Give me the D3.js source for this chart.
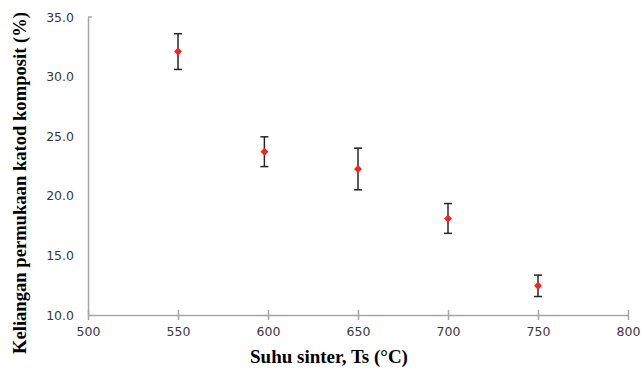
<!DOCTYPE html>
<html>
<head>
<meta charset="utf-8">
<script src="https://cdn.jsdelivr.net/npm/d3@7"></script>
<style>
  body { margin: 0; background: #fff; }
  svg { display: block; }
</style>
</head>
<body>
<svg id="chart" width="641" height="371"></svg>
<script>
// sintering temperature (°C) and surface loss (%) with error
const suhu = [550, 598, 650, 700, 750];
const kehilangan = [32.1, 23.7, 22.25, 18.1, 12.45];
const ralat = [1.5, 1.25, 1.75, 1.25, 0.9];

const xTicks = [500, 550, 600, 650, 700, 750, 800];
const yTicks = [10, 15, 20, 25, 30, 35];

const svg = d3.select("#chart");
const margin = { left: 88, right: 13, top: 17, bottom: 56 };
const width = 641, height = 371;

const x = d3.scaleLinear().domain([500, 800]).range([margin.left, width - margin.right]);
const y = d3.scaleLinear().domain([10, 35]).range([height - margin.bottom, margin.top]);

const axisColor = "#a6a6a6";
const labelColor = "#3a3a3a";
const tickFont = "12.5px 'DejaVu Sans', Verdana, sans-serif";

// x axis - ticks cross the line
const xAxis = svg.append("g")
  .attr("transform", `translate(0,${y(10)})`)
  .call(d3.axisBottom(x).tickValues(xTicks).tickFormat(d3.format("d")).tickSize(0).tickPadding(12));
xAxis.select(".domain").attr("stroke", axisColor).attr("stroke-width", 1.5);
xAxis.selectAll(".tick").append("line")
  .attr("y1", -5).attr("y2", 5)
  .attr("stroke", axisColor).attr("stroke-width", 1.5);
xAxis.selectAll("text")
  .attr("fill", labelColor)
  .style("font", tickFont);

// y axis - labels only, no ticks
const yAxis = svg.append("g")
  .attr("transform", `translate(${x(500)},0)`)
  .call(d3.axisLeft(y).tickValues(yTicks).tickFormat(d3.format(".1f")).tickSize(0).tickPadding(14));
yAxis.select(".domain").attr("stroke", axisColor).attr("stroke-width", 1.5);
yAxis.selectAll("text")
  .attr("fill", labelColor)
  .style("font", tickFont);
// small stub at top of y axis
svg.append("line")
  .attr("x1", x(500)).attr("x2", x(500) + 4)
  .attr("y1", y(35)).attr("y2", y(35))
  .attr("stroke", axisColor).attr("stroke-width", 1.5);

// error bars
const data = suhu.map((s, i) => ({ s, v: kehilangan[i], e: ralat[i] }));
const err = svg.append("g").attr("stroke", "#262626").attr("stroke-width", 1.5);
data.forEach(d => {
  err.append("line")
    .attr("x1", x(d.s)).attr("x2", x(d.s))
    .attr("y1", y(d.v + d.e)).attr("y2", y(d.v - d.e));
  [d.v + d.e, d.v - d.e].forEach(v => {
    err.append("line")
      .attr("x1", x(d.s) - 4).attr("x2", x(d.s) + 4)
      .attr("y1", y(v)).attr("y2", y(v));
  });
});

// diamond markers
svg.append("g").selectAll("path")
  .data(data)
  .join("path")
  .attr("d", d3.symbol(d3.symbolDiamond2, 40))
  .attr("transform", d => `translate(${x(d.s)},${y(d.v)})`)
  .attr("fill", "#ff1f1f");

// axis titles
svg.append("text")
  .attr("x", 329).attr("y", 363)
  .attr("text-anchor", "middle")
  .style("font", "bold 19px 'Liberation Serif', 'Times New Roman', serif")
  .text("Suhu sinter, Ts (°C)");

svg.append("text")
  .attr("transform", "translate(26,183) rotate(-90)")
  .attr("text-anchor", "middle")
  .style("font", "bold 18.6px 'Liberation Serif', 'Times New Roman', serif")
  .text("Keliangan permukaan katod komposit (%)");
</script>
</body>
</html>
